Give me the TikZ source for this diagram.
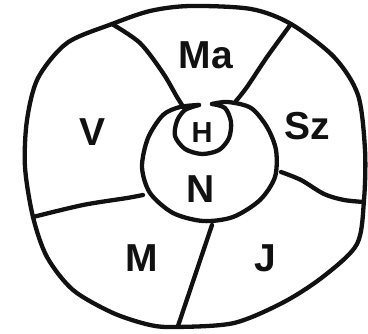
\documentclass[tikz,border=0pt]{standalone}
\usepackage{fontspec}
\setmainfont{Liberation Sans}
\usepackage{xcolor}
\usepackage{tikz}
\definecolor{PlanetInk}{HTML}{111111}
\definecolor{PlanetPaper}{HTML}{FFFFFF}

\begin{document}
\begin{tikzpicture}[x=1pt,y=-1pt,
    ink/.style={draw=PlanetInk, line width=4.3pt, line cap=round, line join=round},
    bigtag/.style={text=PlanetInk, inner sep=0pt, font=\bfseries\fontsize{39pt}{42pt}\selectfont},
    smalltag/.style={text=PlanetInk, inner sep=0pt, font=\bfseries\fontsize{29pt}{32pt}\selectfont}]
        \fill[PlanetPaper] (0,0) rectangle (368,334);
        \useasboundingbox (0,0) rectangle (368,334);
        \draw[ink] plot[smooth cycle] coordinates {(112,24) (150,11) (190,6) (251,9) (291,24) (334,57) (358,95) (365,150) (364,200) (357,244) (324,276) (284,302) (234,323) (177,327) (150,325) (113,313) (73,290) (47,257) (33,217) (25,167) (27,120) (38,78) (67,43)};
        \draw[ink] plot[smooth] coordinates {(112,24) (140,43) (163,73) (177,97) (184,108)};
        \draw[ink] plot[smooth] coordinates {(291,24) (267,57) (247,87) (236,101)};
        \draw[ink] plot[smooth] coordinates {(281,172) (301,180) (324,194) (344,200) (364,202)};
        \draw[ink] (212,225) -- (178,326);
        \draw[ink] plot[smooth] coordinates {(33,217) (83,205) (127,198) (143,195)};
        \draw[ink] plot[smooth] coordinates {(199,105) (180,107) (163,115) (148,138) (142,167) (150,193) (173,213) (203,221) (233,217) (260,200) (275,177) (276,150) (267,127) (251,108) (228,102) (212,104)};
        \draw[ink] plot[smooth] coordinates {(212,104) (225,108) (231,122) (229,138) (219,150) (202,154) (185,149) (175,136) (177,121) (185,110) (199,105)};
        \node[bigtag] (mars) at (206,55) {Ma};
        \node[bigtag] (saturn) at (307,126) {Sz};
        \node[bigtag] (venus) at (93,132) {V};
        \node[smalltag] (moon) at (202,133) {H};
        \node[bigtag] (sun) at (201,189) {N};
        \node[bigtag] (mercury) at (142,258) {M};
        \node[bigtag] (jupiter) at (265,258) {J};
      \end{tikzpicture}
\end{document}
